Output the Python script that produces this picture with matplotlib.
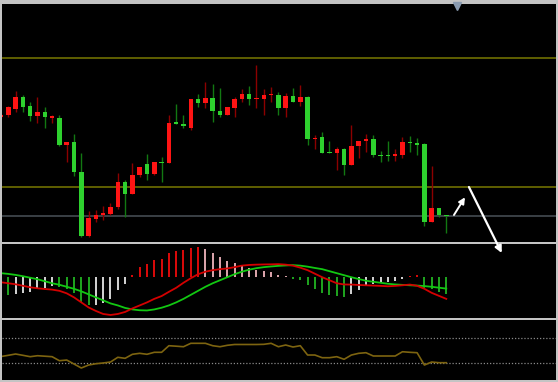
# candlestick chart with MACD and oscillator panels
import numpy as np
import matplotlib
matplotlib.use("Agg")
import matplotlib.pyplot as plt

# price data (one entry per candle)
opens = [183, 185, 191.3, 202.7, 193.7, 184.3, 188.3, 182.3, 181.7, 155,
         158.3, 128.3, 64, 81, 84.7, 86, 92.7, 118, 106.3, 125,
         136.3, 125.7, 138.3, 137.3, 177.7, 176.3, 172.3, 201, 196.7, 202,
         189, 184.7, 192, 200.7, 206.3, 200.7, 201, 204.7, 204.7, 191.7,
         204, 198, 203.3, 161, 163.3, 148.3, 146.7, 150.7, 135.3, 154,
         159, 161, 145.3, 145.3, 144, 145.3, 158.3, 157, 155.7, 78.3,
         92, 85.3]
closes = [185, 192.7, 202.7, 193.3, 184.3, 188.3, 182.7, 183.3, 155, 158.3,
          128.3, 64, 81.7, 85.3, 86.7, 93.3, 118, 106.3, 125.3, 132.7,
          125.7, 138, 137, 177.3, 176, 174.3, 200.7, 196.7, 201.7, 189,
          185, 193.3, 201, 206.3, 200.7, 201.7, 205, 206.3, 191.7, 203.7,
          198.3, 203, 161, 162.3, 147.3, 146.7, 150.7, 135, 154.3, 158.7,
          160.7, 145, 144, 144, 146, 158, 157, 155, 78.3, 92,
          85, 83.7]
highs = [186, 194.3, 209.3, 204.7, 198.3, 203.3, 193, 185, 184.7, 158.3,
         166, 147.3, 89, 90, 94.3, 97.3, 127.3, 120, 136.7, 132.7,
         145.7, 138, 143.3, 185, 195.7, 185, 200.7, 205.7, 218.3, 215.7,
         211.7, 193.3, 203.3, 210.7, 214, 235, 211, 212.7, 207.7, 206.7,
         212, 215.3, 204, 165, 168.3, 159.3, 153.3, 151.7, 175, 158.7,
         166, 165, 149.3, 159.3, 150.7, 163.3, 164.3, 162.3, 156.7, 134,
         92, 85.3]
lows = [182, 183.3, 187.7, 188.3, 179, 177, 171.7, 177.3, 154, 138.3,
        124.3, 63.3, 63.3, 78.3, 80, 85, 91, 83.3, 106.3, 122.7,
        120, 125, 118.3, 137.3, 176, 171.7, 170, 192.7, 192.3, 178,
        183.3, 184.7, 182.7, 198.3, 194.7, 191.7, 185, 198.3, 185, 182.7,
        198.3, 194.3, 155, 150.7, 147.3, 146.7, 130, 125, 135.3, 141.7,
        148.3, 142.7, 138.3, 139, 139.3, 142.3, 148.3, 145, 74, 78.3,
        83.3, 66.7]
levels = [241.7, 113.3, 83.7]

# MACD
hist = [-17, -17.7, -16.3, -15.3, -14.7, -12, -11, -8.7, -9.7, -11.3,
        -15.3, -24.3, -28, -27.7, -25.3, -22, -12.7, -6.3, 2, 9.7,
        13, 17.3, 18.3, 23.7, 26.3, 27.3, 29, 29.7, 28.3, 24.3,
        19.7, 15.7, 13.7, 11.7, 9, 7, 5.7, 4.7, 2, 1,
        -1.7, -2.3, -8, -11.3, -15.3, -18, -18.7, -19.7, -16.3, -12.7,
        -8.7, -6.3, -5.3, -4.3, -3.7, -1.3, 1, 2, -11.3, -12,
        -14.3, -17]
dif = [-5, -6, -7, -8.5, -10, -11, -11.7, -12.3, -13.5, -16,
       -20, -25, -30, -33.5, -36.5, -37.5, -36.5, -34.5, -31, -28,
       -25, -21.5, -18.7, -14.5, -10.5, -5.5, -1, 3, 5.5, 7,
       8, 8.7, 10, 11.5, 12.2, 12.5, 12.7, 12.8, 13, 12.5,
       11.5, 9.5, 7, 3.5, 0, -3, -6, -7.2, -7.3, -7.7,
       -8, -8.3, -8.6, -9, -8.6, -8, -7.3, -8.5, -11.5, -15.5,
       -18.5, -21.5]
dea = [4, 3.3, 2.3, 1, -0.5, -2, -4, -6, -7.5, -9.5,
       -11.5, -14, -17, -20, -23, -26, -28, -30.5, -32, -32.8,
       -33, -32, -30.3, -28, -25, -21.5, -17.5, -13.5, -9.5, -6,
       -3, 0, 3, 5.5, 7.5, 9, 10, 10.7, 11.3, 11.7,
       12, 11.5, 10.5, 9.2, 8, 6, 4, 2, 0, -1.8,
       -3.5, -4.5, -5.5, -6.5, -7.2, -7.6, -8, -8.3, -8.8, -9.5,
       -10.4, -11.3]

# oscillator
osc = [35.2, 38.2, 41.4, 38.2, 34.8, 37.2, 36.0, 34.8, 24.9, 26.6,
       16.8, 7.0, 14.3, 17.5, 19.3, 21.7, 33.3, 30.8, 40.7, 43.1,
       40.7, 45.6, 45.6, 61.8, 60.6, 59.3, 67.7, 67.7, 67.7, 61.8,
       59.3, 62.8, 64.8, 64.8, 64.8, 64.8, 65.2, 67.7, 59.3, 63.5,
       58.6, 61.8, 38.9, 38.9, 32.3, 32.3, 34.8, 28.4, 38.9, 43.1,
       44.6, 36.5, 36.5, 36.5, 36.5, 47.0, 45.6, 44.6, 14.3, 21.7,
       20, 20]
osc_levels = [80, 20]

opens = np.array(opens)
closes = np.array(closes)
highs = np.array(highs)
lows = np.array(lows)
x = np.arange(len(opens))

W, H = 558, 382
fig = plt.figure(figsize=(W / 100, H / 100), dpi=100, facecolor="#c4c4c4")


def px_axes(x0, y0, x1, y1):
    a = fig.add_axes([x0 / W, 1 - y1 / H, (x1 - x0) / W, (y1 - y0) / H])
    a.set_facecolor("black")
    a.set_xticks([])
    a.set_yticks([])
    for s in a.spines.values():
        s.set_visible(False)
    a.set_xlim(0.137, 76.03)
    return a


ax = px_axes(2, 4, 556, 242)
ax2 = px_axes(2, 244, 556, 318)
ax3 = px_axes(2, 320, 556, 380)
ax.set_zorder(5)

# main panel
ax.set_ylim(58, 296)
ax.axhline(levels[0], color="#6f6f00", lw=1.2)
ax.axhline(levels[1], color="#6f6f00", lw=1.2)
ax.axhline(levels[2], color="#4a5258", lw=1.1)

up = closes >= opens
wick_col = np.where(up, "#8c0000", "#127812")
body_col = np.where(up, "#ff1414", "#2ed12e")
ax.vlines(x, lows, highs, colors=wick_col, lw=1.0, zorder=2)
bottoms = np.minimum(opens, closes)
heights = np.maximum(np.abs(closes - opens), 1.4)
ax.bar(x, heights, bottom=bottoms, width=0.62, color=body_col, lw=0, zorder=3)

ax.plot([62.4], [294.5], marker="v", color="#8a9bb0", ms=6, clip_on=False, zorder=6)

ax.annotate("", xy=(63.56, 102.7), xytext=(62.05, 85),
            arrowprops=dict(arrowstyle="-|>", color="white", lw=1.4,
                            mutation_scale=9, shrinkA=0, shrinkB=0),
            annotation_clip=False, zorder=7)
ax.annotate("", xy=(68.6, 47), xytext=(64.1, 113),
            arrowprops=dict(arrowstyle="-|>", color="white", lw=1.6,
                            mutation_scale=10, shrinkA=0, shrinkB=0),
            annotation_clip=False, zorder=7)

# MACD panel
ax2.set_ylim(-40.5, 33)
hist = np.array(hist)
prev = np.r_[hist[0], hist[:-1]]
hcol = []
for h, p in zip(hist, prev):
    if h >= 0:
        hcol.append("#ee0a0a" if h >= p else "#f0b4bc")
    else:
        hcol.append("#22b422" if h < p else "#e6e6e6")
ax2.vlines(x, 0, hist, colors=hcol, lw=1.3)
ax2.plot(x, dea, color="#12c812", lw=1.3)
ax2.plot(x, dif, color="#d40000", lw=1.3)

# oscillator panel
ax3.set_ylim(-22.5, 125)
for lv in osc_levels:
    ax3.axhline(lv, color="#8a8a8a", lw=0.9, ls=(0, (1, 1.5)))
ax3.plot(x, osc, color="#7d6410", lw=1.2)

fig.savefig("out.png", dpi=100, facecolor=fig.get_facecolor())
